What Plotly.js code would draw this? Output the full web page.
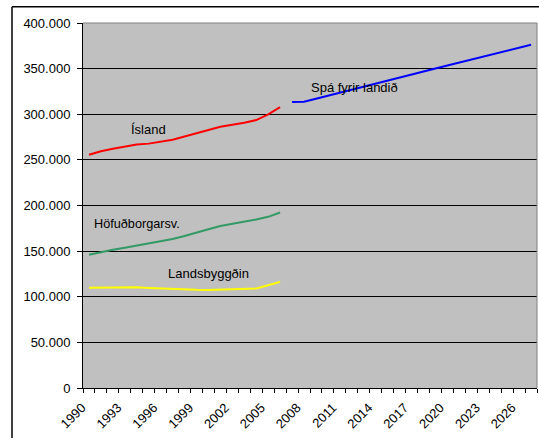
<!DOCTYPE html>
<html>
<head>
<meta charset="utf-8">
<script src="https://cdn.plot.ly/plotly-3.0.1.min.js"></script>
<style>html,body{margin:0;padding:0;background:#fff;}#chart{width:539px;height:438px;}</style>
</head>
<body>
<div id="chart"></div>
<script>
// ---- data ----
var histYears = [1990,1991,1992,1993,1994,1995,1996,1997,1998,1999,2000,2001,2002,2003,2004,2005,2006];
var forecastYears = [2007,2008,2009,2010,2011,2012,2013,2014,2015,2016,2017,2018,2019,2020,2021,2022,2023,2024,2025,2026,2027];
var island = [255700,259500,262200,264900,266800,267800,269700,272100,275700,279000,283000,286300,288500,290600,293600,299900,307700];
var hofudborg = [146000,149000,151600,153700,155900,158100,160300,163200,166500,170600,173900,177500,179700,181900,184700,187600,192300];
var landsbyggd = [109800,110000,110300,110400,110500,109700,109000,108400,107900,107600,107500,107700,107900,108200,109000,112500,116300];
var spa = [313500,313600,316900,320300,323600,327000,330300,333600,336900,340200,343500,346800,350100,353400,356700,360000,363300,366500,369700,373000,376200];
var tickYears = [1990,1993,1996,1999,2002,2005,2008,2011,2014,2017,2020,2023,2026];
var tickLabels = ["1990","1993","1996","1999","2002","2005","2008","2011","2014","2017","2020","2023","2026"];
var seriesNames = ["Ísland","Höfuðborgarsv.","Landsbyggðin","Spá fyrir landið"];

var font = "Liberation Sans, Arial, sans-serif";
function tr(x, y, color, name) {
  return {x: x, y: y, type: 'scatter', mode: 'lines', name: name,
          line: {color: color, width: 2}, hoverinfo: 'x+y'};
}
var data = [
  tr(histYears, island, '#FF0000', seriesNames[0]),
  tr(histYears, hofudborg, '#339966', seriesNames[1]),
  tr(histYears, landsbyggd, '#FFFF00', seriesNames[2]),
  tr(forecastYears, spa, '#0000FF', seriesNames[3])
];

var layout = {
  width: 539, height: 438,
  margin: {l: 83, r: 2, t: 23, b: 50, pad: 0},
  paper_bgcolor: '#ffffff',
  plot_bgcolor: '#C0C0C0',
  separators: ',.',
  showlegend: false,
  font: {family: font, size: 13, color: '#000'},
  xaxis: {
    range: [1989.5, 2027.5],
    tickmode: 'array', tickvals: tickYears, ticktext: tickLabels,
    tickangle: -45, ticks: '', showgrid: false, zeroline: false,
    showline: true, linecolor: '#000', linewidth: 1,
    ticklabelshift: -7, ticklabelstandoff: 6,
    tickfont: {family: font, size: 13, color: '#000'},
    minor: {tickmode: 'linear', tick0: 1989.5, dtick: 1, ticks: 'outside', ticklen: 4, tickcolor: '#000', tickwidth: 1, showgrid: false}
  },
  yaxis: {
    range: [0, 400000], tickmode: 'linear', tick0: 0, dtick: 50000,
    tickformat: ',d', ticks: 'outside', ticklen: 5, tickcolor: '#000',
    showgrid: true, gridcolor: '#000', gridwidth: 1, zeroline: false,
    showline: true, linecolor: '#000', linewidth: 1,
    ticklabelstandoff: 4,
    tickfont: {family: font, size: 13, color: '#000'}
  },
  shapes: [
    {type: 'line', xref: 'paper', yref: 'paper', x0: 0, x1: 1, y0: 1, y1: 1, line: {color: '#808080', width: 1}},
    {type: 'line', xref: 'paper', yref: 'paper', x0: 1, x1: 1, y0: 0, y1: 1, line: {color: '#808080', width: 1}},
    {type: 'line', xref: 'paper', yref: 'paper', x0: -0.1564, x1: 1.2, y0: 1.0447, y1: 1.0447, line: {color: '#000', width: 1.5}},
    {type: 'line', xref: 'paper', yref: 'paper', x0: -0.1564, x1: -0.1564, y0: -0.3, y1: 1.0447, line: {color: '#000', width: 1.5}}
  ],
  annotations: [
    {x: 1995.0, y: 282900, xref: 'x', yref: 'y', text: seriesNames[0], showarrow: false, xanchor: 'center', yanchor: 'middle', font: {family: font, size: 13, color: '#000'}},
    {x: 2012.2, y: 329500, xref: 'x', yref: 'y', text: seriesNames[3], showarrow: false, xanchor: 'center', yanchor: 'middle', font: {family: font, size: 13, color: '#000'}},
    {x: 1994.0, y: 179700, xref: 'x', yref: 'y', text: seriesNames[1], showarrow: false, xanchor: 'center', yanchor: 'middle', font: {family: font, size: 12.7, color: '#000'}},
    {x: 2000.0, y: 125900, xref: 'x', yref: 'y', text: seriesNames[2], showarrow: false, xanchor: 'center', yanchor: 'middle', font: {family: font, size: 13, color: '#000'}}
  ]
};
Plotly.newPlot('chart', data, layout, {displayModeBar: false, staticPlot: true});
</script>
</body>
</html>
